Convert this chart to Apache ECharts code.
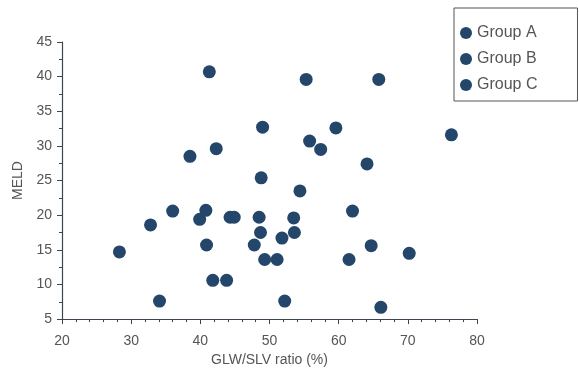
<!DOCTYPE html>
<html>
<head>
<meta charset="utf-8">
<script src="https://cdn.jsdelivr.net/npm/echarts@6/dist/echarts.min.js"></script>
<style>
  html, body { margin: 0; padding: 0; background: #fff; }
  #chart { width: 579px; height: 372px; }
</style>
</head>
<body>
<div id="chart"></div>
<script>
// GLW/SLV ratio (%) vs MELD
const groupNames = ['Group A', 'Group B', 'Group C']

const groupA = [
  [41.3, 40.7], [55.3, 39.6], [65.8, 39.6], [49.0, 32.7], [59.6, 32.6],
  [55.8, 30.7], [57.4, 29.5], [42.3, 29.6], [38.5, 28.5], [64.1, 27.4],
  [76.3, 31.6], [48.8, 25.4], [54.4, 23.5]
]
const groupB = [
  [28.3, 14.7], [32.8, 18.6], [36.0, 20.6], [39.9, 19.4], [40.8, 20.7],
  [40.9, 15.7], [41.8, 10.6], [43.8, 10.6], [34.1, 7.6], [44.3, 19.7],
  [44.9, 19.7], [48.5, 19.7], [48.7, 17.5]
]
const groupC = [
  [47.8, 15.7], [49.3, 13.6], [51.1, 13.6], [51.8, 16.7], [53.5, 19.6],
  [53.6, 17.5], [62.0, 20.6], [61.5, 13.6], [64.7, 15.6], [70.2, 14.5],
  [52.2, 7.6], [66.1, 6.7]
]

const xTicks = [20, 30, 40, 50, 60, 70, 80]
const yTicks = [5, 10, 15, 20, 25, 30, 35, 40, 45]

const dotColor = '#23466a'
const inkColor = '#555'
const fontFamily = '"Liberation Sans", Arial, sans-serif'

const myChart = echarts.init(document.getElementById('chart'))

const axisCommon = {
  axisLine: { show: true, lineStyle: { color: '#3d4650', width: 1.2 } },
  axisTick: { show: true, inside: false, length: 5, lineStyle: { color: '#3d4650' } },
  splitLine: { show: false },
  nameTextStyle: { color: inkColor, fontSize: 14, fontFamily },
  axisLabel: { color: inkColor, fontSize: 14, fontFamily }
}

myChart.setOption({
  animation: false,
  backgroundColor: '#fff',
  grid: { left: 62, right: 102, top: 42, bottom: 52 },
  legend: {
    orient: 'vertical',
    left: 454,
    top: 8,
    data: groupNames,
    icon: 'circle',
    itemWidth: 12,
    itemHeight: 12,
    itemGap: 10,
    padding: [17, 40, 8, 6],
    borderColor: '#555',
    borderWidth: 1,
    textStyle: { color: inkColor, fontSize: 16, fontFamily }
  },
  xAxis: {
    ...axisCommon,
    type: 'value',
    min: xTicks[0],
    max: xTicks[xTicks.length - 1],
    interval: 10,
    name: 'GLW/SLV ratio (%)',
    nameLocation: 'middle',
    nameGap: 33,
    minorTick: { show: true, splitNumber: 5, length: 3, lineStyle: { color: '#3d4650' } },
    axisLabel: { ...axisCommon.axisLabel, margin: 15 }
  },
  yAxis: {
    ...axisCommon,
    type: 'value',
    min: yTicks[0],
    max: yTicks[yTicks.length - 1],
    interval: 5,
    name: 'MELD',
    nameLocation: 'middle',
    nameGap: 36,
    minorTick: { show: true, splitNumber: 2, length: 3, lineStyle: { color: '#3d4650' } },
    axisLabel: { ...axisCommon.axisLabel, margin: 10 }
  },
  series: [groupA, groupB, groupC].map((data, i) => ({
    name: groupNames[i],
    type: 'scatter',
    data,
    symbolSize: 13,
    itemStyle: { color: dotColor, opacity: 1 },
    emphasis: { disabled: true }
  }))
})
</script>
</body>
</html>
